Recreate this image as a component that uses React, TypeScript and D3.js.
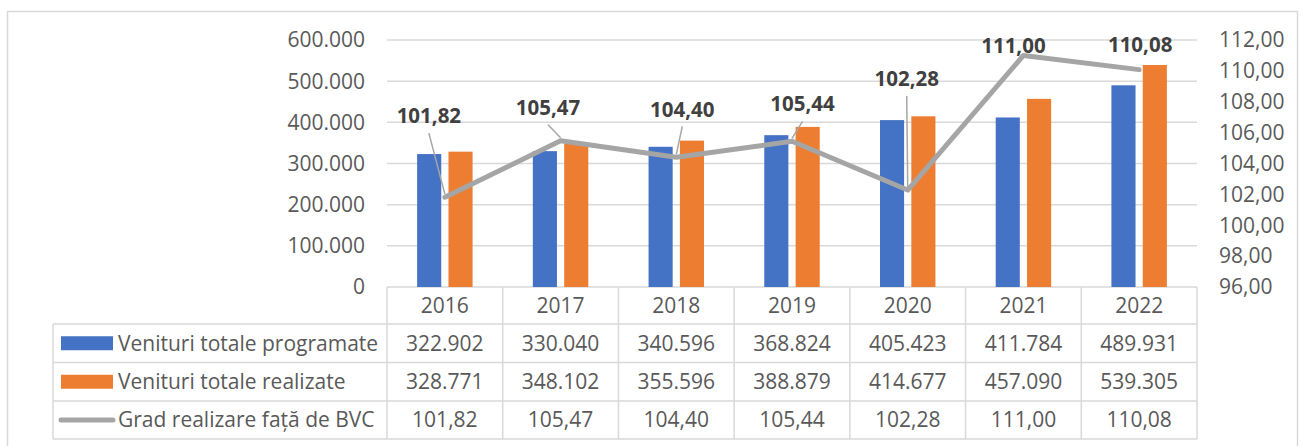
import React from "react";
import * as d3 from "d3";

const years = ["2016", "2017", "2018", "2019", "2020", "2021", "2022"];
const programate = [322902, 330040, 340596, 368824, 405423, 411784, 489931];
const realizate = [328771, 348102, 355596, 388879, 414677, 457090, 539305];
const grad = [101.82, 105.47, 104.4, 105.44, 102.28, 111.0, 110.08];
const seriesNames = ["Venituri totale programate", "Venituri totale realizate", "Grad realizare față de BVC"];
const leftTicks = [0, 100000, 200000, 300000, 400000, 500000, 600000];
const rightTicks = [96, 98, 100, 102, 104, 106, 108, 110, 112];

// label placement offsets (layout, relative to each line point)
const labelOffsets: [number, number][] = [
  [-16, -81], [-12.5, -33], [6, -48], [10.5, -37], [-1, -111], [-10, -10], [1, -25],
];

const W = 1302, H = 446;
const plot = { left: 387, right: 1197, top: 40, bottom: 287 };
const rowLines = [287, 324, 362.5, 401, 439];
const legendLeft = 53;

const loc = d3.formatLocale({ decimal: ",", thousands: ".", grouping: [3], currency: ["", ""] });
const fmtInt = loc.format(",.0f");
const fmt2 = loc.format(".2f");

const BLUE = "#4472C4", ORANGE = "#ED7D31", GREY = "#A5A5A5";
const TXT = "#595959", GRID = "#D9D9D9";
const FONT = "'Open Sans', sans-serif";

export default function App() {
  const x = d3.scaleBand<string>().domain(years).range([plot.left, plot.right]).padding(0);
  const bw = x.bandwidth();
  const barW = bw / 4.8;
  const gap = barW * 0.3;
  const yL = d3.scaleLinear().domain([0, 600000]).range([plot.bottom, plot.top]);
  const yR = d3.scaleLinear().domain([96, 112]).range([plot.bottom, plot.top]);
  const cx = (y: string) => (x(y) as number) + bw / 2;

  const line = d3.line<number>().x((_, i) => cx(years[i])).y((d) => yR(d));

  const rowMid = (i: number) => (rowLines[i] + rowLines[i + 1]) / 2;
  const tableRows = [
    programate.map((v) => fmtInt(v)),
    realizate.map((v) => fmtInt(v)),
    grad.map((v) => fmt2(v)),
  ];

  return (
    <svg width={W} height={H} style={{ position: "absolute", left: 0, top: 0, background: "#fff" }} fontFamily={FONT}>
      <rect x={7.5} y={11.5} width={1290} height={460} fill="#fff" stroke={GRID} strokeWidth={1.5} />
      {/* gridlines */}
      {leftTicks.map((t) => (
        <line key={t} x1={plot.left} x2={plot.right} y1={yL(t)} y2={yL(t)} stroke={GRID} strokeWidth={1.5} />
      ))}
      {/* bars */}
      {years.map((yr, i) => {
        const c = cx(yr);
        return (
          <g key={yr}>
            <rect x={c - gap / 2 - barW} y={yL(programate[i])} width={barW} height={plot.bottom - yL(programate[i])} fill={BLUE} />
            <rect x={c + gap / 2} y={yL(realizate[i])} width={barW} height={plot.bottom - yL(realizate[i])} fill={ORANGE} />
          </g>
        );
      })}
      {/* line */}
      <path d={line(grad) || ""} fill="none" stroke={GREY} strokeWidth={5} strokeLinejoin="round" strokeLinecap="round" />
      {/* leader lines and labels */}
      {grad.map((v, i) => {
        const px = cx(years[i]);
        const py = yR(v);
        const lx = px + labelOffsets[i][0];
        const ly = py + labelOffsets[i][1];
        const leader = labelOffsets[i][1] < -28;
        return (
          <g key={"l" + i}>
            {leader && <line x1={lx} y1={ly + 17} x2={px} y2={py - 3} stroke="#A6A6A6" strokeWidth={1.5} />}
            <text x={lx} y={ly} dy="0.35em" textAnchor="middle" fontSize={20.5} fontWeight={700} fill="#404040">
              {fmt2(v)}
            </text>
          </g>
        );
      })}
      {/* left axis */}
      {leftTicks.map((t) => (
        <text key={"lt" + t} x={365} y={yL(t)} dy="0.35em" textAnchor="end" fontSize={21} fill={TXT}>
          {fmtInt(t)}
        </text>
      ))}
      {/* right axis */}
      {rightTicks.map((t) => (
        <text key={"rt" + t} x={1219} y={yR(t)} dy="0.35em" textAnchor="start" fontSize={21} fill={TXT}>
          {fmt2(t)}
        </text>
      ))}
      {/* data table */}
      <g stroke={GRID} strokeWidth={1.5}>
        {rowLines.slice(1).map((ry) => (
          <line key={"h" + ry} x1={legendLeft} x2={plot.right} y1={ry} y2={ry} />
        ))}
        <line x1={legendLeft} x2={legendLeft} y1={rowLines[1]} y2={rowLines[4]} />
        {years.map((yr) => (
          <line key={"v" + yr} x1={x(yr) as number} x2={x(yr) as number} y1={rowLines[0]} y2={rowLines[4]} />
        ))}
        <line x1={plot.right} x2={plot.right} y1={rowLines[0]} y2={rowLines[4]} />
      </g>
      {years.map((yr) => (
        <text key={"y" + yr} x={cx(yr)} y={rowMid(0)} dy="0.35em" textAnchor="middle" fontSize={21} fill={TXT}>
          {yr}
        </text>
      ))}
      {tableRows.map((row, r) =>
        row.map((s, i) => (
          <text key={"c" + r + i} x={cx(years[i])} y={rowMid(r + 1)} dy="0.35em" textAnchor="middle" fontSize={21} fill={TXT}>
            {s}
          </text>
        ))
      )}
      {/* legend keys */}
      <rect x={61} y={rowMid(1) - 7} width={52} height={14} fill={BLUE} />
      <rect x={61} y={rowMid(2) - 7} width={52} height={14} fill={ORANGE} />
      <line x1={61} x2={113} y1={rowMid(3)} y2={rowMid(3)} stroke={GREY} strokeWidth={5} strokeLinecap="round" />
      {seriesNames.map((n, r) => (
        <text key={n} x={118} y={rowMid(r + 1)} dy="0.35em" fontSize={21} fill={TXT}>
          {n}
        </text>
      ))}
    </svg>
  );
}
